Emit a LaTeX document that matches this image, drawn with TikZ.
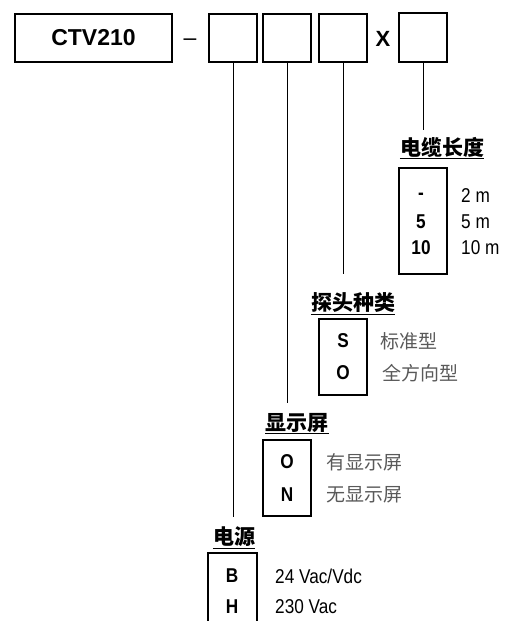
\documentclass[tikz,border=0pt]{standalone}
\usepackage{fontspec}
\setmainfont{Liberation Sans}
\newfontfamily\cjk{Noto Sans CJK SC}
\newfontfamily\narrowfont[FakeStretch=0.86]{Liberation Sans}
\begin{document}
\begin{tikzpicture}[x=1pt,y=-1pt]
\tikzset{
 box/.style={draw, line width=1.1pt, inner sep=0pt},
 code/.style={font=\narrowfont\fontsize{20}{22}\selectfont\bfseries, inner sep=0pt},
 val/.style={font=\narrowfont\fontsize{20}{22}\selectfont, anchor=west, inner sep=0pt, text=black},
 cval/.style={font=\cjk\fontsize{19}{21}\selectfont, anchor=west, inner sep=0pt, text=black!65},
 head/.style={font=\cjk\bfseries\fontsize{21}{23}\selectfont, inner sep=0pt},
 conn/.style={line width=0.9pt},
}
\useasboundingbox (0,0) rectangle (509,621);
% top row
\node[box, minimum width=157pt, minimum height=48pt, font=\fontsize{23}{25}\selectfont\bfseries] (main) at (93.5,38) {CTV210};
\node[inner sep=0pt, font=\fontsize{23}{25}\selectfont] (dash) at (190,42) {–};
\node[box, minimum width=48pt, minimum height=48pt] (b1) at (233,38) {};
\node[box, minimum width=48pt, minimum height=48pt] (b2) at (287,38) {};
\node[box, minimum width=48pt, minimum height=48pt] (b3) at (343,38) {};
\node[inner sep=0pt, font=\fontsize{22}{24}\selectfont\bfseries] (x) at (383,39) {X};
\node[box, minimum width=48pt, minimum height=49pt] (b4) at (423,37.5) {};
% connector ends
\coordinate (e1) at (233,517);
\coordinate (e2) at (287,403);
\coordinate (e3) at (343,274);
\coordinate (e4) at (423,130);
\draw[conn] (b1.south) -- (e1);
\draw[conn] (b2.south) -- (e2);
\draw[conn] (b3.south) -- (e3);
\draw[conn] (b4.south) -- (e4);
% cable length
\node[head] (hc) at (442,147) {电缆长度};
\draw[conn] ([yshift=-1pt]hc.south west) -- ([yshift=-1pt]hc.south east);
\node[box, minimum width=48pt, minimum height=106pt] (cb) at (423,221) {};
\node[code] (c1) at (421,196) {-};
\node[code] (c2) at (421,222) {5};
\node[code] (c3) at (421,248) {10};
\node[val] (v1) at (461,196) {2 m};
\node[val] (v2) at (461,222) {5 m};
\node[val] (v3) at (461,248) {10 m};
% probe type
\node[head] (hp) at (353,303) {探头种类};
\draw[conn] ([yshift=-1pt]hp.south west) -- ([yshift=-1pt]hp.south east);
\node[box, minimum width=48pt, minimum height=76pt] (pb) at (343,357) {};
\node[code] (p1) at (343,341) {S};
\node[code] (p2) at (343,373) {O};
\node[cval] (pv1) at (380,341) {标准型};
\node[cval] (pv2) at (382,373) {全方向型};
% display
\node[head] (hd) at (297,423) {显示屏};
\draw[conn] ([yshift=-1pt]hd.south west) -- ([yshift=-1pt]hd.south east);
\node[box, minimum width=48pt, minimum height=76pt] (db) at (287,478) {};
\node[code] (d1) at (287,462) {O};
\node[code] (d2) at (287,495) {N};
\node[cval] (dv1) at (326,462) {有显示屏};
\node[cval] (dv2) at (326,495) {无显示屏};
% power
\node[head] (hw) at (234,537) {电源};
\draw[conn] ([yshift=-1pt]hw.south west) -- ([yshift=-1pt]hw.south east);
\draw[line width=1.1pt] (208,622) -- (208,553) -- (257,553) -- (257,622);
\node[code] (w1) at (232,576) {B};
\node[code] (w2) at (232,607) {H};
\node[val] (wv1) at (275,576) {24 Vac/Vdc};
\node[val] (wv2) at (275,607) {230 Vac};
\end{tikzpicture}
\end{document}
